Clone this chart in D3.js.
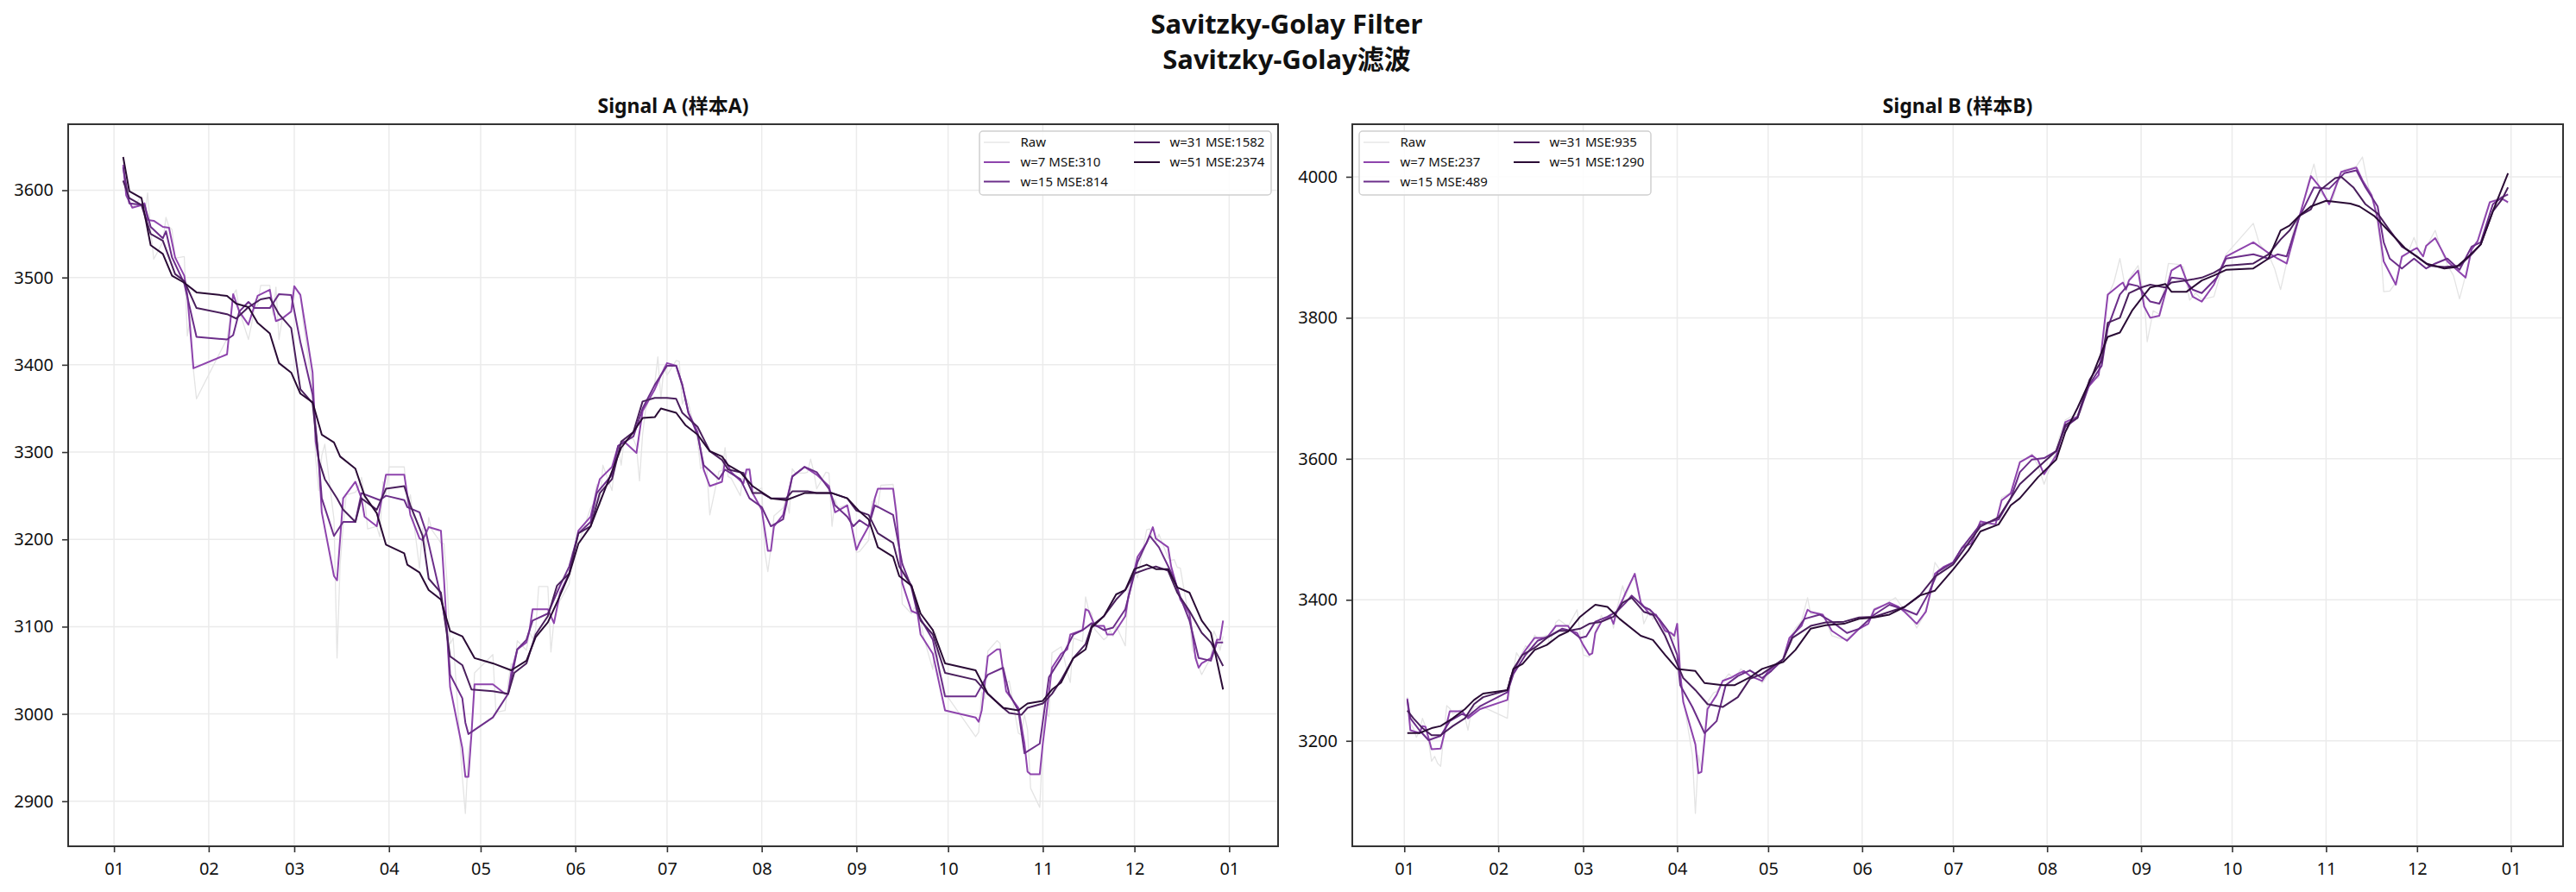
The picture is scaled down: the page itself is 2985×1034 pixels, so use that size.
<!DOCTYPE html>
<html><head><meta charset="utf-8">
<script src="https://cdn.jsdelivr.net/npm/d3@7"></script>
<style>
body{margin:0;background:#fff}
svg text{font-family:"Noto Sans","Noto Sans CJK SC",sans-serif;fill:#111}
</style></head>
<body><svg id="c" width="2985" height="1034"></svg>
<script>
// ---------------- data ----------------
const YEAR = 2022;
const mainTitle = ["Savitzky-Golay Filter", "Savitzky-Golay滤波"];
const panelTitles = ["Signal A (样本A)", "Signal B (样本B)"];
const windowSizes = [7, 15, 31, 51];
const mseA = [310, 814, 1582, 2374];
const mseB = [237, 489, 935, 1290];
const yTicksA = [2900, 3000, 3100, 3200, 3300, 3400, 3500, 3600];
const yTicksB = [3200, 3400, 3600, 3800, 4000];

const A_raw = [["01-04",3632],["01-05",3595],["01-06",3586],["01-07",3580],["01-10",3593],["01-11",3567],["01-12",3597],["01-13",3555],["01-14",3521],["01-17",3541],["01-18",3569],["01-19",3558],["01-20",3555],["01-21",3522],["01-24",3524],["01-25",3433],["01-26",3455],["01-27",3394],["01-28",3361],["02-07",3430],["02-08",3452],["02-09",3480],["02-10",3486],["02-11",3462],["02-14",3429],["02-15",3446],["02-16",3465],["02-17",3468],["02-18",3491],["02-21",3491],["02-22",3457],["02-23",3489],["02-24",3429],["02-25",3451],["02-28",3462],["03-01",3488],["03-02",3484],["03-03",3481],["03-04",3447],["03-07",3372],["03-08",3293],["03-09",3256],["03-10",3296],["03-11",3309],["03-14",3223],["03-15",3064],["03-16",3171],["03-17",3216],["03-18",3251],["03-21",3254],["03-22",3259],["03-23",3271],["03-24",3250],["03-25",3212],["03-28",3215],["03-29",3203],["03-30",3266],["03-31",3252],["04-01",3283],["04-06",3283],["04-07",3237],["04-08",3251],["04-11",3167],["04-12",3213],["04-13",3187],["04-14",3225],["04-15",3211],["04-18",3196],["04-19",3195],["04-20",3151],["04-21",3080],["04-22",3087],["04-25",2928],["04-26",2886],["04-27",2958],["04-28",2975],["04-29",3047],["05-05",3068],["05-06",3002],["05-09",3004],["05-10",3036],["05-11",3058],["05-12",3054],["05-13",3084],["05-16",3073],["05-17",3094],["05-18",3086],["05-19",3096],["05-20",3146],["05-23",3146],["05-24",3071],["05-25",3107],["05-26",3123],["05-27",3130],["05-30",3149],["05-31",3186],["06-01",3182],["06-02",3195],["06-06",3236],["06-07",3241],["06-08",3263],["06-09",3239],["06-10",3285],["06-13",3256],["06-14",3289],["06-15",3305],["06-16",3285],["06-17",3316],["06-20",3315],["06-21",3306],["06-22",3267],["06-23",3320],["06-24",3349],["06-27",3379],["06-28",3409],["06-29",3361],["06-30",3398],["07-01",3388],["07-04",3405],["07-05",3404],["07-06",3355],["07-07",3364],["07-08",3356],["07-11",3313],["07-12",3281],["07-13",3284],["07-14",3282],["07-15",3228],["07-18",3278],["07-19",3279],["07-20",3305],["07-21",3272],["07-22",3270],["07-25",3250],["07-26",3277],["07-27",3275],["07-28",3282],["07-29",3253],["08-01",3259],["08-02",3186],["08-03",3163],["08-04",3189],["08-05",3227],["08-08",3236],["08-09",3247],["08-10",3230],["08-11",3281],["08-12",3276],["08-15",3276],["08-16",3277],["08-17",3292],["08-18",3278],["08-19",3258],["08-22",3277],["08-23",3276],["08-24",3215],["08-25",3246],["08-26",3236],["08-29",3240],["08-30",3227],["08-31",3202],["09-01",3185],["09-02",3186],["09-05",3199],["09-06",3243],["09-07",3246],["09-08",3236],["09-09",3262],["09-13",3263],["09-14",3237],["09-15",3199],["09-16",3126],["09-19",3115],["09-20",3122],["09-21",3117],["09-22",3108],["09-23",3088],["09-26",3051],["09-27",3093],["09-28",3045],["09-29",3041],["09-30",3024],["10-10",2974],["10-11",2979],["10-12",3025],["10-13",3017],["10-14",3072],["10-17",3084],["10-18",3081],["10-19",3044],["10-20",3035],["10-21",3038],["10-24",2978],["10-25",2976],["10-26",2999],["10-27",2982],["10-28",2915],["10-31",2893],["11-01",2969],["11-02",3003],["11-03",2997],["11-04",3070],["11-07",3077],["11-08",3064],["11-09",3048],["11-10",3036],["11-11",3087],["11-14",3083],["11-15",3134],["11-16",3119],["11-17",3115],["11-18",3097],["11-21",3085],["11-22",3088],["11-23",3096],["11-24",3089],["11-25",3101],["11-28",3078],["11-29",3149],["11-30",3151],["12-01",3165],["12-02",3156],["12-05",3211],["12-06",3212],["12-07",3199],["12-08",3197],["12-09",3206],["12-12",3179],["12-13",3176],["12-14",3177],["12-15",3168],["12-16",3167],["12-19",3107],["12-20",3073],["12-21",3068],["12-22",3054],["12-23",3045],["12-26",3065],["12-27",3095],["12-28",3087],["12-29",3073],["12-30",3089]];

const A_w7 = [["01-04",3629],["01-05",3594],["01-07",3580],["01-10",3583],["01-11",3585],["01-12",3566],["01-14",3565],["01-17",3558],["01-19",3557],["01-21",3523],["01-24",3502],["01-25",3480],["01-27",3396],["02-07",3412],["02-09",3481],["02-11",3461],["02-14",3446],["02-17",3479],["02-21",3486],["02-22",3466],["02-23",3450],["02-25",3453],["02-28",3461],["03-01",3490],["03-03",3480],["03-07",3391],["03-08",3312],["03-09",3291],["03-10",3231],["03-14",3158],["03-15",3153],["03-17",3247],["03-21",3266],["03-23",3247],["03-24",3226],["03-28",3215],["03-31",3274],["04-06",3274],["04-08",3228],["04-11",3201],["04-12",3199],["04-14",3214],["04-18",3210],["04-19",3155],["04-21",3031],["04-25",2961],["04-26",2928],["04-27",2928],["04-28",2977],["04-29",3034],["05-05",3034],["05-09",3023],["05-10",3023],["05-11",3047],["05-13",3074],["05-16",3082],["05-17",3096],["05-18",3120],["05-23",3120],["05-25",3104],["05-27",3139],["05-30",3161],["06-02",3210],["06-06",3226],["06-08",3256],["06-09",3269],["06-13",3283],["06-15",3307],["06-17",3312],["06-21",3299],["06-23",3347],["06-27",3372],["06-29",3388],["07-01",3402],["07-04",3399],["07-06",3377],["07-08",3345],["07-11",3323],["07-13",3280],["07-15",3261],["07-19",3266],["07-20",3291],["07-22",3277],["07-26",3264],["07-27",3280],["07-28",3280],["07-29",3253],["08-01",3234],["08-03",3187],["08-04",3187],["08-05",3215],["08-08",3228],["08-11",3272],["08-15",3283],["08-19",3274],["08-23",3261],["08-25",3231],["08-29",3239],["09-01",3188],["09-02",3196],["09-05",3215],["09-07",3247],["09-08",3258],["09-13",3258],["09-14",3231],["09-16",3150],["09-19",3118],["09-21",3115],["09-22",3091],["09-26",3069],["09-30",3004],["10-10",2996],["10-11",2991],["10-12",3004],["10-14",3066],["10-17",3074],["10-18",3074],["10-20",3026],["10-24",3007],["10-26",2966],["10-27",2934],["10-28",2931],["10-31",2931],["11-01",2966],["11-04",3053],["11-07",3069],["11-09",3074],["11-10",3091],["11-14",3096],["11-15",3120],["11-16",3118],["11-18",3101],["11-21",3101],["11-22",3091],["11-24",3091],["11-25",3096],["11-28",3112],["11-29",3134],["12-02",3180],["12-05",3196],["12-07",3214],["12-08",3201],["12-12",3191],["12-13",3169],["12-16",3131],["12-19",3115],["12-21",3064],["12-22",3053],["12-23",3058],["12-26",3064],["12-28",3085],["12-29",3085],["12-30",3107]];

const A_w15 = [["01-04",3626],["01-06",3585],["01-11",3583],["01-13",3558],["01-17",3545],["01-18",3553],["01-20",3523],["01-24",3493],["01-28",3432],["02-07",3429],["02-09",3434],["02-11",3461],["02-14",3472],["02-16",3465],["02-21",3465],["02-24",3481],["02-28",3480],["03-03",3426],["03-07",3366],["03-09",3291],["03-10",3247],["03-14",3204],["03-17",3220],["03-21",3220],["03-23",3253],["03-29",3245],["03-31",3250],["04-06",3245],["04-07",3237],["04-11",3231],["04-13",3210],["04-18",3134],["04-20",3096],["04-21",3045],["04-25",3018],["04-26",2990],["04-27",2977],["05-05",2996],["05-10",3023],["05-13",3074],["05-16",3085],["05-18",3107],["05-23",3115],["05-27",3147],["05-30",3169],["06-02",3207],["06-06",3220],["06-08",3253],["06-13",3274],["06-15",3307],["06-20",3318],["06-23",3350],["06-27",3377],["07-01",3399],["07-04",3399],["07-06",3377],["07-08",3345],["07-11",3320],["07-13",3285],["07-18",3269],["07-20",3280],["07-25",3269],["07-28",3247],["08-01",3237],["08-04",3215],["08-08",3223],["08-11",3272],["08-15",3283],["08-19",3277],["08-23",3258],["08-25",3239],["08-29",3226],["08-31",3215],["09-02",3222],["09-05",3215],["09-07",3239],["09-13",3228],["09-16",3172],["09-19",3145],["09-21",3115],["09-26",3085],["09-30",3020],["10-10",3020],["10-14",3045],["10-19",3053],["10-21",3023],["10-24",3004],["10-26",2955],["10-31",2966],["11-03",3042],["11-07",3064],["11-11",3091],["11-14",3096],["11-17",3104],["11-21",3096],["11-24",3099],["11-28",3120],["12-02",3174],["12-06",3204],["12-09",3191],["12-14",3155],["12-16",3134],["12-19",3107],["12-22",3064],["12-26",3061],["12-28",3082],["12-30",3082]];

const A_w31 = [["01-04",3611],["01-06",3591],["01-10",3583],["01-13",3550],["01-17",3542],["01-21",3504],["01-24",3496],["01-28",3465],["02-07",3458],["02-10",3453],["02-14",3466],["02-18",3475],["02-21",3477],["02-24",3458],["02-28",3442],["03-03",3372],["03-07",3356],["03-09",3291],["03-11",3269],["03-15",3247],["03-17",3234],["03-21",3220],["03-23",3247],["03-28",3234],["03-31",3258],["04-06",3261],["04-08",3239],["04-12",3204],["04-14",3155],["04-18",3139],["04-21",3066],["04-25",3056],["04-28",3028],["05-05",3026],["05-10",3023],["05-12",3047],["05-16",3058],["05-19",3091],["05-23",3112],["05-26",3147],["05-30",3161],["06-02",3207],["06-06",3215],["06-09",3253],["06-13",3269],["06-16",3312],["06-20",3323],["06-23",3358],["06-27",3362],["07-01",3362],["07-04",3361],["07-06",3345],["07-11",3329],["07-13",3315],["07-15",3301],["07-19",3291],["07-21",3280],["07-26",3276],["07-29",3253],["08-01",3253],["08-04",3247],["08-09",3247],["08-11",3255],["08-16",3255],["08-19",3253],["08-24",3253],["08-29",3247],["09-01",3233],["09-05",3228],["09-08",3207],["09-13",3196],["09-15",3169],["09-19",3147],["09-22",3107],["09-26",3091],["09-30",3047],["10-10",3039],["10-14",3023],["10-19",3007],["10-21",3001],["10-25",2999],["10-27",3007],["11-01",3012],["11-04",3023],["11-07",3039],["11-11",3064],["11-15",3080],["11-17",3101],["11-21",3112],["11-25",3131],["11-28",3142],["12-01",3161],["12-05",3166],["12-08",3169],["12-12",3164],["12-15",3139],["12-19",3118],["12-23",3093],["12-26",3082],["12-30",3055]];

const A_w51 = [["01-04",3638],["01-06",3599],["01-10",3591],["01-13",3537],["01-17",3527],["01-20",3502],["01-24",3494],["01-28",3483],["02-07",3479],["02-10",3470],["02-14",3466],["02-17",3448],["02-21",3436],["02-24",3402],["02-28",3391],["03-03",3367],["03-07",3357],["03-10",3320],["03-14",3311],["03-16",3295],["03-21",3281],["03-24",3250],["03-28",3230],["03-31",3194],["04-06",3184],["04-07",3171],["04-11",3162],["04-14",3142],["04-18",3131],["04-21",3095],["04-25",3089],["04-29",3064],["05-05",3058],["05-11",3050],["05-16",3061],["05-19",3088],["05-23",3105],["05-26",3128],["05-30",3160],["06-02",3195],["06-06",3215],["06-09",3242],["06-16",3305],["06-20",3323],["06-23",3339],["06-27",3340],["06-29",3350],["07-04",3345],["07-07",3331],["07-11",3320],["07-15",3301],["07-19",3295],["07-21",3285],["07-25",3277],["07-29",3261],["08-04",3247],["08-09",3245],["08-15",3253],["08-19",3253],["08-24",3253],["08-29",3247],["09-02",3232],["09-05",3223],["09-08",3191],["09-13",3180],["09-15",3158],["09-19",3147],["09-22",3115],["09-26",3096],["09-30",3058],["10-10",3050],["10-14",3023],["10-19",3007],["10-24",3004],["10-27",3012],["11-01",3015],["11-04",3028],["11-07",3036],["11-11",3064],["11-15",3074],["11-17",3099],["11-21",3112],["11-25",3137],["11-28",3142],["12-01",3166],["12-05",3171],["12-08",3166],["12-12",3166],["12-15",3145],["12-19",3139],["12-23",3107],["12-26",3093],["12-30",3028]];

const B_raw = [["01-02",3262],["01-03",3225],["01-04",3218],["01-05",3205],["01-06",3214],["01-07",3232],["01-08",3220],["01-09",3200],["01-10",3171],["01-11",3178],["01-12",3168],["01-13",3164],["01-14",3208],["01-15",3250],["01-16",3246],["01-17",3238],["01-20",3245],["01-21",3234],["01-22",3215],["01-23",3240],["01-24",3248],["01-26",3250],["02-04",3232],["02-05",3290],["02-06",3300],["02-07",3325],["02-08",3318],["02-10",3335],["02-11",3330],["02-13",3350],["02-14",3345],["02-17",3350],["02-18",3338],["02-20",3368],["02-21",3372],["02-24",3362],["02-25",3370],["02-27",3386],["02-28",3350],["03-01",3322],["03-03",3319],["03-04",3330],["03-05",3355],["03-07",3378],["03-08",3370],["03-10",3380],["03-11",3360],["03-12",3385],["03-14",3420],["03-15",3405],["03-17",3427],["03-18",3430],["03-20",3395],["03-21",3366],["03-23",3385],["03-24",3372],["03-25",3380],["03-28",3352],["03-29",3356],["03-31",3343],["04-01",3360],["04-02",3300],["04-03",3260],["04-06",3180],["04-07",3097],["04-08",3180],["04-09",3160],["04-11",3255],["04-13",3268],["04-14",3270],["04-16",3284],["04-18",3295],["04-20",3288],["04-22",3302],["04-25",3292],["04-27",3296],["04-29",3282],["05-02",3300],["05-05",3310],["05-06",3320],["05-08",3345],["05-10",3360],["05-12",3370],["05-14",3403],["05-15",3380],["05-18",3380],["05-20",3372],["05-22",3349],["05-25",3345],["05-27",3345],["05-30",3355],["06-01",3362],["06-03",3370],["06-05",3388],["06-08",3392],["06-10",3398],["06-12",3403],["06-15",3385],["06-17",3378],["06-19",3360],["06-21",3375],["06-23",3400],["06-25",3453],["06-27",3440],["06-29",3448],["07-01",3452],["07-04",3476],["07-06",3478],["07-08",3490],["07-10",3513],["07-13",3506],["07-15",3508],["07-17",3545],["07-20",3552],["07-23",3596],["07-25",3600],["07-27",3607],["07-29",3590],["07-31",3564],["08-03",3600],["08-05",3630],["08-07",3655],["08-09",3660],["08-12",3665],["08-14",3700],["08-16",3712],["08-18",3715],["08-21",3830],["08-23",3850],["08-25",3884],["08-27",3838],["08-28",3855],["08-31",3874],["09-02",3830],["09-03",3766],["09-05",3810],["09-07",3805],["09-10",3877],["09-13",3876],["09-15",3872],["09-17",3825],["09-19",3835],["09-21",3826],["09-25",3830],["09-27",3860],["09-29",3890],["10-08",3934],["10-10",3905],["10-13",3890],["10-15",3870],["10-17",3840],["10-19",3878],["10-21",3920],["10-24",3955],["10-26",3990],["10-28",4018],["10-30",3978],["11-01",3970],["11-03",3965],["11-05",3995],["11-07",4010],["11-09",4012],["11-11",4015],["11-13",4028],["11-15",3985],["11-17",3965],["11-19",3900],["11-20",3837],["11-22",3838],["11-24",3850],["11-26",3885],["11-28",3892],["11-30",3914],["12-02",3890],["12-04",3900],["12-07",3924],["12-09",3895],["12-11",3875],["12-13",3860],["12-15",3827],["12-17",3860],["12-19",3900],["12-21",3910],["12-23",3940],["12-25",3965],["12-27",3968],["12-29",3972],["12-31",3962]];

const B_w7 = [["01-02",3260],["01-03",3215],["01-06",3211],["01-07",3221],["01-08",3220],["01-10",3188],["01-13",3189],["01-16",3242],["01-20",3242],["01-22",3232],["01-26",3245],["02-04",3258],["02-05",3289],["02-08",3316],["02-10",3329],["02-13",3346],["02-17",3346],["02-20",3363],["02-24",3363],["02-25",3356],["02-27",3353],["03-01",3336],["03-03",3322],["03-04",3324],["03-05",3353],["03-07",3369],["03-10",3376],["03-11",3366],["03-12",3383],["03-14",3400],["03-15",3410],["03-18",3437],["03-20",3396],["03-23",3379],["03-25",3379],["03-28",3356],["03-30",3353],["03-31",3349],["04-01",3366],["04-02",3295],["04-03",3255],["04-07",3195],["04-08",3154],["04-09",3156],["04-11",3245],["04-14",3265],["04-16",3285],["04-19",3290],["04-21",3295],["04-23",3299],["04-25",3292],["04-29",3285],["05-01",3299],["05-06",3316],["05-08",3346],["05-12",3363],["05-14",3386],["05-15",3383],["05-19",3379],["05-22",3356],["05-27",3342],["05-31",3359],["06-03",3366],["06-05",3386],["06-10",3396],["06-13",3390],["06-15",3383],["06-19",3366],["06-22",3383],["06-25",3437],["06-28",3447],["07-01",3453],["07-04",3474],["07-07",3480],["07-10",3511],["07-15",3507],["07-17",3541],["07-20",3551],["07-23",3595],["07-27",3605],["07-29",3598],["07-31",3578],["08-04",3605],["08-07",3652],["08-11",3660],["08-14",3699],["08-18",3719],["08-21",3833],["08-25",3847],["08-26",3850],["08-27",3840],["08-28",3853],["08-31",3867],["09-02",3816],["09-04",3800],["09-07",3803],["09-11",3867],["09-14",3875],["09-18",3830],["09-21",3823],["09-25",3847],["09-29",3887],["10-08",3907],["10-13",3892],["10-16",3884],["10-19",3877],["10-23",3941],["10-27",4001],["10-30",3985],["11-02",3961],["11-06",4007],["11-11",4013],["11-13",3995],["11-16",3974],["11-18",3941],["11-20",3880],["11-24",3847],["11-26",3887],["11-30",3897],["12-01",3899],["12-03",3887],["12-04",3902],["12-07",3913],["12-09",3897],["12-11",3880],["12-17",3857],["12-19",3897],["12-21",3909],["12-25",3964],["12-29",3969],["12-31",3964]];

const B_w15 = [["01-02",3258],["01-03",3232],["01-06",3215],["01-09",3201],["01-13",3207],["01-16",3228],["01-20",3238],["01-22",3235],["01-26",3249],["02-04",3269],["02-06",3295],["02-10",3322],["02-14",3342],["02-18",3349],["02-22",3359],["02-25",3356],["02-28",3346],["03-02",3348],["03-05",3369],["03-09",3376],["03-12",3383],["03-15",3396],["03-17",3406],["03-21",3390],["03-23",3386],["03-26",3373],["03-29",3356],["04-01",3322],["04-02",3279],["04-06",3248],["04-10",3211],["04-14",3228],["04-17",3279],["04-21",3292],["04-25",3300],["04-29",3289],["05-02",3299],["05-06",3316],["05-09",3349],["05-13",3373],["05-18",3379],["05-22",3369],["05-27",3353],["05-31",3359],["06-05",3379],["06-10",3393],["06-15",3386],["06-19",3379],["06-23",3410],["06-26",3440],["07-01",3453],["07-04",3474],["07-10",3507],["07-16",3514],["07-20",3544],["07-23",3581],["07-27",3599],["07-31",3601],["08-04",3611],["08-07",3645],["08-11",3658],["08-15",3706],["08-19",3732],["08-21",3786],["08-25",3833],["08-28",3848],["08-31",3845],["09-03",3828],["09-04",3823],["09-07",3820],["09-11",3857],["09-15",3855],["09-18",3840],["09-21",3835],["09-26",3857],["09-29",3884],["10-08",3890],["10-13",3884],["10-16",3890],["10-19",3887],["10-23",3941],["10-28",3985],["11-02",3983],["11-07",4005],["11-11",4009],["11-14",3985],["11-18",3958],["11-20",3907],["11-22",3884],["11-26",3870],["11-30",3884],["12-04",3870],["12-07",3877],["12-11",3884],["12-15",3868],["12-19",3901],["12-22",3907],["12-26",3961],["12-29",3971],["12-31",3975]];

const B_w31 = [["01-02",3243],["01-04",3232],["01-07",3218],["01-10",3208],["01-13",3208],["01-17",3221],["01-21",3232],["01-24",3252],["01-27",3262],["02-04",3272],["02-06",3302],["02-09",3322],["02-13",3332],["02-17",3346],["02-21",3356],["02-24",3356],["02-28",3359],["03-03",3366],["03-07",3369],["03-11",3376],["03-14",3396],["03-17",3403],["03-21",3383],["03-24",3379],["03-28",3349],["04-01",3309],["04-03",3289],["04-07",3272],["04-11",3252],["04-16",3248],["04-21",3262],["04-25",3288],["04-29",3295],["05-06",3316],["05-09",3346],["05-15",3363],["05-20",3368],["05-26",3369],["05-31",3375],["06-05",3376],["06-10",3383],["06-15",3390],["06-20",3406],["06-25",3433],["07-01",3450],["07-06",3480],["07-10",3504],["07-16",3517],["07-20",3544],["07-23",3564],["07-29",3588],["08-04",3611],["08-07",3648],["08-11",3658],["08-15",3712],["08-19",3739],["08-21",3793],["08-25",3800],["08-28",3835],["09-01",3843],["09-04",3847],["09-09",3843],["09-11",3850],["09-16",3853],["09-21",3857],["09-25",3864],["09-29",3874],["10-08",3877],["10-13",3890],["10-17",3911],["10-20",3924],["10-23",3944],["10-27",3954],["10-30",3981],["11-04",3998],["11-06",4000],["11-10",3985],["11-14",3961],["11-18",3948],["11-22",3924],["11-26",3901],["12-01",3887],["12-05",3874],["12-10",3872],["12-15",3874],["12-19",3890],["12-22",3904],["12-26",3951],["12-29",3968],["12-31",3985]];

const B_w51 = [["01-02",3211],["01-06",3211],["01-10",3218],["01-13",3221],["01-17",3232],["01-21",3245],["01-24",3258],["01-27",3267],["02-04",3272],["02-06",3302],["02-09",3309],["02-13",3329],["02-17",3336],["02-21",3349],["02-24",3355],["02-28",3376],["03-02",3383],["03-05",3393],["03-09",3390],["03-13",3373],["03-20",3349],["03-24",3343],["03-28",3322],["04-01",3302],["04-07",3299],["04-10",3282],["04-16",3279],["04-20",3279],["04-25",3290],["04-29",3302],["05-06",3312],["05-10",3329],["05-15",3359],["05-20",3364],["05-26",3366],["05-31",3373],["06-05",3375],["06-10",3379],["06-15",3390],["06-20",3406],["06-25",3413],["07-01",3443],["07-06",3470],["07-10",3497],["07-16",3507],["07-20",3534],["07-23",3544],["07-29",3574],["08-04",3599],["08-07",3638],["08-11",3672],["08-16",3719],["08-21",3773],["08-25",3779],["08-29",3810],["09-01",3827],["09-04",3843],["09-09",3848],["09-11",3837],["09-16",3837],["09-21",3853],["09-25",3860],["09-29",3868],["10-08",3870],["10-13",3884],["10-17",3924],["10-20",3931],["10-23",3944],["10-27",3958],["11-01",3966],["11-09",3962],["11-12",3958],["11-17",3944],["11-23",3917],["11-27",3899],["12-04",3877],["12-10",3870],["12-14",3872],["12-18",3887],["12-22",3904],["12-26",3951],["12-31",4005]];

// ---------------- layout / style ----------------
const seriesKeys = ["raw", "w7", "w15", "w31", "w51"];
const seriesColor = {raw:"#e4e4e4", w7:"#8e44ad", w15:"#6c2e8a", w31:"#4a1f5d", w51:"#2a0b35"};
const seriesWidth = {raw:1.3, w7:2, w15:2, w31:2, w51:2};

const panels = [
  {title: panelTitles[0], data:{raw:A_raw, w7:A_w7, w15:A_w15, w31:A_w31, w51:A_w51},
   mse: mseA, yTicks: yTicksA, x0: 79, x1: 1481, legendAnchor: "right"},
  {title: panelTitles[1], data:{raw:B_raw, w7:B_w7, w15:B_w15, w31:B_w31, w51:B_w51},
   mse: mseB, yTicks: yTicksB, x0: 1567, x1: 2970, legendAnchor: "left"}
];
const plotTop = 144, plotBottom = 981;

const svg = d3.select("#c");
const parse = d3.timeParse("%Y-%m-%d");
const toDate = s => parse(`${YEAR}-${s}`);

// main title
svg.append("text").attr("x", 1491).attr("y", 39).attr("text-anchor", "middle")
  .attr("font-size", 31).attr("font-weight", "bold").text(mainTitle[0]);
svg.append("text").attr("x", 1491).attr("y", 80).attr("text-anchor", "middle")
  .attr("font-size", 31).attr("font-weight", "bold").text(mainTitle[1]);

panels.forEach((p, pi) => {
  const all = seriesKeys.flatMap(k => p.data[k]);
  const dates = all.map(d => toDate(d[0]));
  const vals = all.map(d => d[1]);
  const [t0, t1] = d3.extent(dates);
  const tp = (t1 - t0) * 0.05;
  const [v0, v1] = d3.extent(vals);
  const vp = (v1 - v0) * 0.05;

  const x = d3.scaleTime().domain([new Date(+t0 - tp), new Date(+t1 + tp)]).range([p.x0, p.x1]);
  const y = d3.scaleLinear().domain([v0 - vp, v1 + vp]).range([plotBottom, plotTop]);
  const monthTicks = d3.timeMonth.range(new Date(YEAR, 0, 1), new Date(YEAR + 1, 0, 2));

  const g = svg.append("g");

  // grid
  g.append("g").selectAll("line").data(monthTicks).join("line")
    .attr("x1", d => x(d)).attr("x2", d => x(d)).attr("y1", plotTop).attr("y2", plotBottom)
    .attr("stroke", "#ebebeb").attr("stroke-width", 1.5);
  g.append("g").selectAll("line").data(p.yTicks).join("line")
    .attr("x1", p.x0).attr("x2", p.x1).attr("y1", d => y(d)).attr("y2", d => y(d))
    .attr("stroke", "#ebebeb").attr("stroke-width", 1.5);

  // clip
  svg.append("clipPath").attr("id", "clip" + pi).append("rect")
    .attr("x", p.x0).attr("y", plotTop).attr("width", p.x1 - p.x0).attr("height", plotBottom - plotTop);

  const line = d3.line().x(d => x(toDate(d[0]))).y(d => y(d[1]));
  const lg = g.append("g").attr("clip-path", `url(#clip${pi})`);
  seriesKeys.forEach(k => {
    lg.append("path").datum(p.data[k]).attr("d", line)
      .attr("fill", "none").attr("stroke", seriesColor[k]).attr("stroke-width", seriesWidth[k])
      .attr("stroke-linejoin", "round");
  });

  // axes
  const xa = g.append("g").attr("transform", `translate(0,${plotBottom})`)
    .call(d3.axisBottom(x).tickValues(monthTicks).tickFormat(d3.timeFormat("%m"))
      .tickSize(7).tickSizeOuter(0).tickPadding(12));
  const ya = g.append("g").attr("transform", `translate(${p.x0},0)`)
    .call(d3.axisLeft(y).tickValues(p.yTicks).tickFormat(d3.format("d"))
      .tickSize(7).tickSizeOuter(0).tickPadding(10));
  [xa, ya].forEach(a => {
    a.select(".domain").remove();
    a.selectAll(".tick line").attr("stroke", "#333").attr("stroke-width", 1.6);
    a.selectAll(".tick text").attr("font-size", 20).attr("fill", "#111")
      .attr("font-family", '"Noto Sans","Noto Sans CJK SC",sans-serif');
  });

  // spines
  g.append("rect").attr("x", p.x0).attr("y", plotTop).attr("width", p.x1 - p.x0)
    .attr("height", plotBottom - plotTop).attr("fill", "none").attr("stroke", "#333").attr("stroke-width", 2);

  // subplot title
  g.append("text").attr("x", (p.x0 + p.x1) / 2).attr("y", 131).attr("text-anchor", "middle")
    .attr("font-size", 23).attr("font-weight", "bold").text(p.title);

  // legend
  const lw = 338, lh = 74;
  const lx = p.legendAnchor === "right" ? p.x1 - 8 - lw : p.x0 + 8;
  const ly = 152;
  const leg = g.append("g").attr("transform", `translate(${lx},${ly})`);
  leg.append("rect").attr("width", lw).attr("height", lh).attr("rx", 4)
    .attr("fill", "#fff").attr("fill-opacity", 0.85).attr("stroke", "#d0d0d0").attr("stroke-width", 1.5);
  const labels = ["Raw"].concat(windowSizes.map((w, i) => `w=${w} MSE:${p.mse[i]}`));
  const rowY = [13, 36, 58.5];
  labels.forEach((lab, i) => {
    const col = i < 3 ? 0 : 1, row = i < 3 ? i : i - 3;
    const hx = col === 0 ? 5 : 179, tx = col === 0 ? 47.5 : 220.5;
    leg.append("line").attr("x1", hx).attr("x2", hx + 30).attr("y1", rowY[row]).attr("y2", rowY[row])
      .attr("stroke", seriesColor[seriesKeys[i]]).attr("stroke-width", seriesWidth[seriesKeys[i]]);
    leg.append("text").attr("x", tx).attr("y", rowY[row]).attr("dy", "0.35em")
      .attr("font-size", 15).text(lab);
  });
});
</script>
</body></html>
